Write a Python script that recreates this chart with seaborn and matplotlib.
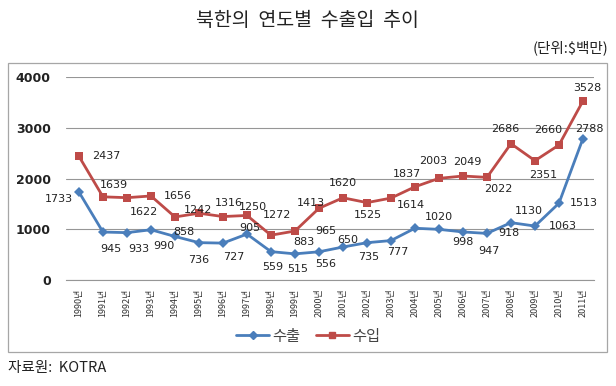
import pandas as pd
import matplotlib.pyplot as plt
import seaborn as sns
from matplotlib.lines import Line2D
from matplotlib.patches import Rectangle

# Data (US$ million)
years = [str(y) for y in range(1990, 2012)]
exports = [1733, 945, 933, 990, 858, 736, 727, 905, 559, 515, 556,
           650, 735, 777, 1020, 998, 947, 918, 1130, 1063, 1513, 2788]
imports = [2437, 1639, 1622, 1656, 1242, 1316, 1250, 1272, 883, 965, 1413,
           1620, 1525, 1614, 1837, 2003, 2049, 2022, 2686, 2351, 2660, 3528]
year_labels = [y + "년" for y in years]

# label offsets (pixels, dx, dy up) mimicking Excel placement
exp_off = [(-20, -7), (8, -17), (12, -16), (13, -16), (9, 4), (0, -17), (11, -14),
           (3, 6), (2, -15), (3, -15), (7, -12), (5, 7), (2, -14), (7, -11),
           (24, 11), (24, -13), (26, -19), (22, 0), (18, 12), (28, 0), (25, 0), (6, 10)]
imp_off = [(27, 0), (11, 12), (17, -14), (27, 0), (23, 7), (30, 10), (30, 10),
           (30, 0), (33, -7), (31, 0), (-8, 5), (0, 15), (1, -12), (20, -7),
           (-8, 13), (-6, 17), (4, 14), (11, -12), (-6, 15), (8, -14), (-11, 15), (4, 13)]

BLUE = "#4A7EBB"
RED = "#BE4B48"

df = pd.DataFrame({
    "x": list(range(len(years))) * 2,
    "value": exports + imports,
    "series": ["수출"] * len(years) + ["수입"] * len(years),
})

sns.set_style("white")
plt.rcParams['font.family'] = ['Noto Sans CJK KR', 'DejaVu Sans']

fig = plt.figure(figsize=(6.16, 3.86), dpi=100)
ax = fig.add_axes([66 / 616, 1 - 280 / 386, 528 / 616, 203 / 386])

# chart border
fig.patches.append(Rectangle((8 / 616, 1 - 352 / 386), 599 / 616, 289 / 386,
                             transform=fig.transFigure, fill=False,
                             edgecolor="#A6A6A6", linewidth=0.9))

sns.lineplot(data=df, x="x", y="value", hue="series", style="series",
             palette={"수출": BLUE, "수입": RED},
             markers={"수출": "D", "수입": "s"}, dashes=False,
             linewidth=2.0, markersize=6, markeredgewidth=0,
             legend=False, ax=ax)
for ln in ax.lines:
    if ln.get_marker() == "D":
        ln.set_markersize(5)

ax.set_xlim(-0.54, 21.46)
ax.set_ylim(0, 4000)
ax.set_yticks([0, 1000, 2000, 3000, 4000])
ax.yaxis.grid(True, color="#969696", linewidth=0.8)
ax.set_axisbelow(True)
for s in ["top", "right", "left"]:
    ax.spines[s].set_visible(False)
ax.spines["bottom"].set_color("#969696")
ax.spines["bottom"].set_linewidth(0.8)

ax.set_xticks(range(len(years)))
ax.set_xticklabels(year_labels, rotation=90, fontsize=6.5, color="#333333",
                   va="top")
ax.tick_params(axis="x", length=0, pad=6)
ax.tick_params(axis="y", length=0, pad=11)
for t in ax.get_yticklabels():
    t.set_fontfamily("DejaVu Sans")
    t.set_fontweight("bold")
    t.set_fontsize(9)
    t.set_color("#222222")
ax.set_xlabel("")
ax.set_ylabel("")

for i, (v, off) in enumerate(zip(exports, exp_off)):
    ax.annotate(str(v), (i, v), xytext=off, textcoords="offset pixels",
                ha="center", va="center", fontsize=8, color="#222222",
                family="DejaVu Sans")
for i, (v, off) in enumerate(zip(imports, imp_off)):
    ax.annotate(str(v), (i, v), xytext=off, textcoords="offset pixels",
                ha="center", va="center", fontsize=8, color="#222222",
                family="DejaVu Sans")

handles = [Line2D([], [], color=BLUE, marker="D", markersize=4, lw=2),
           Line2D([], [], color=RED, marker="s", markersize=5, lw=2)]
fig.legend(handles, ["수출", "수입"], loc="center", ncol=2,
           bbox_to_anchor=(308 / 616, 1 - 336 / 386), frameon=False,
           fontsize=11, handlelength=2.2, handletextpad=0.2, columnspacing=1.0,
           labelcolor="#444444")

fig.text(307 / 616, 1 - 21 / 386, "북한의  연도별  수출입  추이", ha="center", va="center",
         fontsize=14, color="#222222")
fig.text(608 / 616, 1 - 48 / 386, "(단위:$백만)", ha="right", va="center",
         fontsize=10.5, color="#222222")
fig.text(8 / 616, 1 - 368 / 386, "자료원:  KOTRA", ha="left", va="center",
         fontsize=10.5, color="#222222")

fig.savefig("out.png", dpi=100)
